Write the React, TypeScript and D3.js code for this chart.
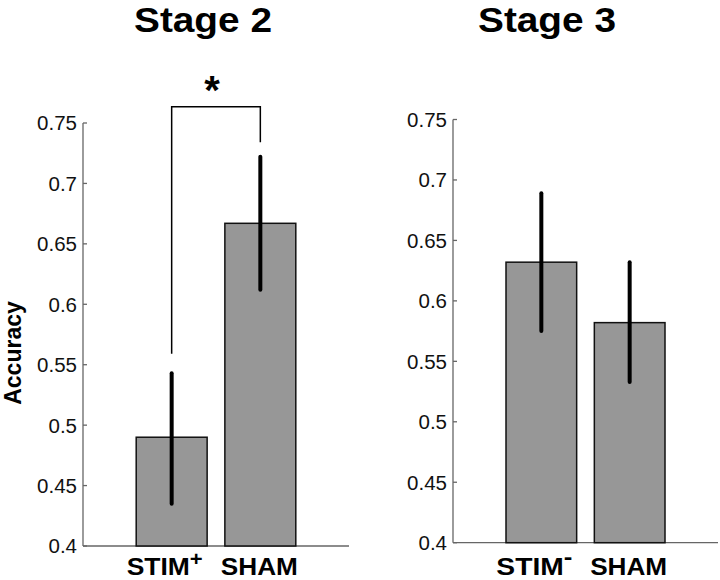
import * as d3 from 'd3';

// values
const stageTitles = ['Stage 2', 'Stage 3'];
const stage2Labels = ['STIM', 'SHAM'];
const stage2Sup = ['+', ''];
const stage2Means = [0.49, 0.667];
const stage2Lower = [0.435, 0.612];
const stage2Upper = [0.543, 0.722];
const stage3Labels = ['STIM', 'SHAM'];
const stage3Sup = ['-', ''];
const stage3Means = [0.632, 0.582];
const stage3Lower = [0.575, 0.533];
const stage3Upper = [0.689, 0.632];
const yTicks = [0.4, 0.45, 0.5, 0.55, 0.6, 0.65, 0.7, 0.75];
const tickLabels = ['0.4', '0.45', '0.5', '0.55', '0.6', '0.65', '0.7', '0.75'];
// significance bracket: left end, top, right end
const bracketLevels = [0.559, 0.7635, 0.734];

const FONT = '"Liberation Sans", Arial, Helvetica, sans-serif';

type PanelProps = {
    title: string;
    titleX: number;
    labels: string[];
    sups: string[];
    means: number[];
    lower: number[];
    upper: number[];
    left: number;
    right: number;
    top: number;
    bottom: number;
    bracket?: number[];
};

function Panel({ title, titleX, labels, sups, means, lower, upper, left, right, top, bottom, bracket }: PanelProps) {
    const x = d3.scaleLinear().domain([0, 3]).range([left, right]);
    const y = d3.scaleLinear().domain([0.4, 0.75]).range([bottom, top]);
    const barW = x(0.8) - x(0);

    return (
        <g>
            <text x={titleX} y={32} textAnchor="middle" fontFamily={FONT} fontWeight="bold" fontSize={35}
                textLength={138} lengthAdjust="spacingAndGlyphs">
                {title}
            </text>

            {/* x axis line */}
            <line x1={left} x2={right} y1={y(0.4)} y2={y(0.4)} stroke="#666" strokeWidth={1.3} />

            {/* bars */}
            {means.map((m, i) => (
                <rect key={'b' + i}
                    x={x(i + 1) - barW / 2}
                    y={y(m)}
                    width={barW}
                    height={y(0.4) - y(m)}
                    fill="#979797"
                    stroke="#111"
                    strokeWidth={1.5} />
            ))}

            {/* error bars */}
            {means.map((m, i) => (
                <line key={'e' + i}
                    x1={x(i + 1)} x2={x(i + 1)}
                    y1={y(lower[i])} y2={y(upper[i])}
                    stroke="#000" strokeWidth={4} strokeLinecap="round" />
            ))}

            {/* y axis */}
            <line x1={left} x2={left} y1={y(0.4)} y2={y(0.75)} stroke="#666" strokeWidth={1.3} />
            {yTicks.map((t, i) => (
                <g key={'t' + i}>
                    <line x1={left} x2={left + 4} y1={y(t)} y2={y(t)} stroke="#666" strokeWidth={1.3} />
                    <text x={left - 6} y={y(t)} dy="0.36em" textAnchor="end" fontFamily={FONT} fontSize={20.5} fill="#111">
                        {tickLabels[i]}
                    </text>
                </g>
            ))}

            {/* category labels */}
            {labels.map((l, i) => (
                <text key={'l' + i}
                    x={x(i + 1) - (sups[i] ? 7 : 1)}
                    y={575}
                    textAnchor="middle"
                    fontFamily={FONT}
                    fontWeight="bold"
                    fontSize={24}
                    textLength={sups[i] ? 76 : 77}
                    lengthAdjust="spacingAndGlyphs">
                    {l}
                    {sups[i] === '+' && <tspan dy={-9} fontSize={20}>+</tspan>}
                    {sups[i] === '-' && <tspan dy={-11} fontSize={22}>-</tspan>}
                </text>
            ))}

            {bracket && (
                <g>
                    <path
                        d={`M${x(1)},${y(bracket[0])}V${y(bracket[1])}H${x(2)}V${y(bracket[2])}`}
                        fill="none" stroke="#000" strokeWidth={1.5} />
                    <text x={(x(1) + x(2)) / 2 - 4} y={y(bracket[1]) - 3} textAnchor="middle"
                        fontFamily={FONT} fontWeight="bold" fontSize={40}>*</text>
                </g>
            )}
        </g>
    );
}

export default function App() {
    return (
        <svg width={720} height={580} style={{ position: 'absolute', left: 0, top: 0, background: '#fff' }}>
            <Panel title={stageTitles[0]} titleX={203} labels={stage2Labels} sups={stage2Sup}
                means={stage2Means} lower={stage2Lower} upper={stage2Upper}
                left={83} right={349} top={123} bottom={546} bracket={bracketLevels} />
            <Panel title={stageTitles[1]} titleX={547} labels={stage3Labels} sups={stage3Sup}
                means={stage3Means} lower={stage3Lower} upper={stage3Upper}
                left={453} right={718} top={119.5} bottom={542.7} />
            <text transform="translate(21,353) rotate(-90)" textAnchor="middle"
                fontFamily={FONT} fontWeight="bold" fontSize={23}>Accuracy</text>
        </svg>
    );
}
